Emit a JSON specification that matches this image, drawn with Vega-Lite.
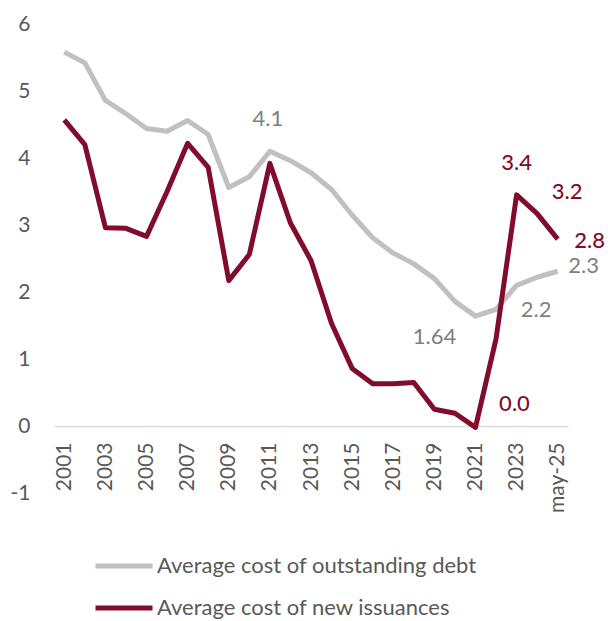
{
  "$schema": "https://vega.github.io/schema/vega-lite/v6.json",
  "width": 514,
  "height": 469,
  "autosize": {"type": "none"},
  "padding": {"left": 54, "top": 24, "right": 40, "bottom": 128},
  "background": "white",
  "config": {
    "view": {"stroke": null},
    "font": "Lato"
  },
  "data": {
    "values": [
      {"period": "2001", "series": "Average cost of outstanding debt", "value": 5.58},
      {"period": "2002", "series": "Average cost of outstanding debt", "value": 5.42},
      {"period": "2003", "series": "Average cost of outstanding debt", "value": 4.86},
      {"period": "2004", "series": "Average cost of outstanding debt", "value": 4.66},
      {"period": "2005", "series": "Average cost of outstanding debt", "value": 4.44},
      {"period": "2006", "series": "Average cost of outstanding debt", "value": 4.40},
      {"period": "2007", "series": "Average cost of outstanding debt", "value": 4.56},
      {"period": "2008", "series": "Average cost of outstanding debt", "value": 4.35},
      {"period": "2009", "series": "Average cost of outstanding debt", "value": 3.56},
      {"period": "2010", "series": "Average cost of outstanding debt", "value": 3.72},
      {"period": "2011", "series": "Average cost of outstanding debt", "value": 4.10, "label": "4.1"},
      {"period": "2012", "series": "Average cost of outstanding debt", "value": 3.96},
      {"period": "2013", "series": "Average cost of outstanding debt", "value": 3.78},
      {"period": "2014", "series": "Average cost of outstanding debt", "value": 3.53},
      {"period": "2015", "series": "Average cost of outstanding debt", "value": 3.15},
      {"period": "2016", "series": "Average cost of outstanding debt", "value": 2.81},
      {"period": "2017", "series": "Average cost of outstanding debt", "value": 2.58},
      {"period": "2018", "series": "Average cost of outstanding debt", "value": 2.42},
      {"period": "2019", "series": "Average cost of outstanding debt", "value": 2.20},
      {"period": "2020", "series": "Average cost of outstanding debt", "value": 1.86},
      {"period": "2021", "series": "Average cost of outstanding debt", "value": 1.64, "label": "1.64"},
      {"period": "2022", "series": "Average cost of outstanding debt", "value": 1.74},
      {"period": "2023", "series": "Average cost of outstanding debt", "value": 2.10},
      {"period": "2024", "series": "Average cost of outstanding debt", "value": 2.22, "label": "2.2"},
      {"period": "may-25", "series": "Average cost of outstanding debt", "value": 2.31, "label": "2.3"},
      {"period": "2001", "series": "Average cost of new issuances", "value": 4.57},
      {"period": "2002", "series": "Average cost of new issuances", "value": 4.20},
      {"period": "2003", "series": "Average cost of new issuances", "value": 2.96},
      {"period": "2004", "series": "Average cost of new issuances", "value": 2.95},
      {"period": "2005", "series": "Average cost of new issuances", "value": 2.83},
      {"period": "2006", "series": "Average cost of new issuances", "value": 3.50},
      {"period": "2007", "series": "Average cost of new issuances", "value": 4.22},
      {"period": "2008", "series": "Average cost of new issuances", "value": 3.86},
      {"period": "2009", "series": "Average cost of new issuances", "value": 2.17},
      {"period": "2010", "series": "Average cost of new issuances", "value": 2.56},
      {"period": "2011", "series": "Average cost of new issuances", "value": 3.92},
      {"period": "2012", "series": "Average cost of new issuances", "value": 3.03},
      {"period": "2013", "series": "Average cost of new issuances", "value": 2.47},
      {"period": "2014", "series": "Average cost of new issuances", "value": 1.53},
      {"period": "2015", "series": "Average cost of new issuances", "value": 0.86},
      {"period": "2016", "series": "Average cost of new issuances", "value": 0.63},
      {"period": "2017", "series": "Average cost of new issuances", "value": 0.63},
      {"period": "2018", "series": "Average cost of new issuances", "value": 0.65},
      {"period": "2019", "series": "Average cost of new issuances", "value": 0.25},
      {"period": "2020", "series": "Average cost of new issuances", "value": 0.19},
      {"period": "2021", "series": "Average cost of new issuances", "value": -0.02, "label": "0.0"},
      {"period": "2022", "series": "Average cost of new issuances", "value": 1.30},
      {"period": "2023", "series": "Average cost of new issuances", "value": 3.45, "label": "3.4"},
      {"period": "2024", "series": "Average cost of new issuances", "value": 3.17, "label": "3.2"},
      {"period": "may-25", "series": "Average cost of new issuances", "value": 2.79, "label": "2.8"}
    ]
  },
  "encoding": {
    "x": {
      "field": "period", "type": "ordinal", "sort": null,
      "axis": {
        "title": null, "offset": -67, "labelAngle": -90, "ticks": false,
        "domainColor": "#d9d9d9", "domainWidth": 1.5,
        "labelFontSize": 21, "labelColor": "#595959", "labelPadding": 16,
        "values": ["2001","2003","2005","2007","2009","2011","2013","2015","2017","2019","2021","2023","may-25"]
      }
    },
    "y": {
      "field": "value", "type": "quantitative",
      "scale": {"domain": [-1, 6], "nice": false, "zero": false},
      "axis": {
        "title": null, "values": [-1,0,1,2,3,4,5,6], "grid": false, "domain": false, "ticks": false,
        "labelExpr": "'' + datum.value",
        "labelFontSize": 21, "labelColor": "#595959", "labelPadding": 24
      }
    }
  },
  "layer": [
    {
      "transform": [{"filter": "datum.series == 'Average cost of outstanding debt'"}],
      "mark": {"type": "line", "strokeWidth": 5, "strokeJoin": "round"},
      "encoding": {
        "color": {
          "field": "series", "type": "nominal",
          "scale": {"domain": ["Average cost of outstanding debt", "Average cost of new issuances"], "range": ["#c0c0c0", "#820c2c"]},
          "legend": {
            "orient": "none", "legendX": 39, "legendY": 511, "direction": "vertical", "title": null,
            "symbolType": "stroke", "symbolSize": 3249, "symbolStrokeWidth": 5,
            "labelFontSize": 22, "labelColor": "#595959", "labelLimit": 600, "labelOffset": 2, "rowPadding": -17
          }
        }
      }
    },
    {
      "transform": [{"filter": "datum.series == 'Average cost of new issuances'"}],
      "mark": {"type": "line", "strokeWidth": 5, "strokeJoin": "round"},
      "encoding": {"color": {"field": "series", "type": "nominal"}}
    },
    {
      "transform": [{"filter": "datum.label == '4.1'"}],
      "mark": {"type": "text", "fontSize": 22, "color": "#7f7f7f", "dx": -2, "dy": -32},
      "encoding": {"text": {"field": "label"}}
    },
    {
      "transform": [{"filter": "datum.label == '1.64'"}],
      "mark": {"type": "text", "fontSize": 22, "color": "#7f7f7f", "dx": -41, "dy": 21},
      "encoding": {"text": {"field": "label"}}
    },
    {
      "transform": [{"filter": "datum.label == '2.2'"}],
      "mark": {"type": "text", "fontSize": 22, "color": "#7f7f7f", "dx": -1, "dy": 33},
      "encoding": {"text": {"field": "label"}}
    },
    {
      "transform": [{"filter": "datum.label == '2.3'"}],
      "mark": {"type": "text", "fontSize": 22, "color": "#7f7f7f", "dx": 26, "dy": -5},
      "encoding": {"text": {"field": "label"}}
    },
    {
      "transform": [{"filter": "datum.label == '0.0'"}],
      "mark": {"type": "text", "fontSize": 22, "fontWeight": 500, "color": "#820c2c", "dx": 39, "dy": -23},
      "encoding": {"text": {"field": "label"}}
    },
    {
      "transform": [{"filter": "datum.label == '3.4'"}],
      "mark": {"type": "text", "fontSize": 22, "fontWeight": 500, "color": "#820c2c", "dx": 0, "dy": -32},
      "encoding": {"text": {"field": "label"}}
    },
    {
      "transform": [{"filter": "datum.label == '3.2'"}],
      "mark": {"type": "text", "fontSize": 22, "fontWeight": 500, "color": "#820c2c", "dx": 30, "dy": -22},
      "encoding": {"text": {"field": "label"}}
    },
    {
      "transform": [{"filter": "datum.label == '2.8'"}],
      "mark": {"type": "text", "fontSize": 22, "fontWeight": 500, "color": "#820c2c", "dx": 32, "dy": 2},
      "encoding": {"text": {"field": "label"}}
    }
  ]
}
